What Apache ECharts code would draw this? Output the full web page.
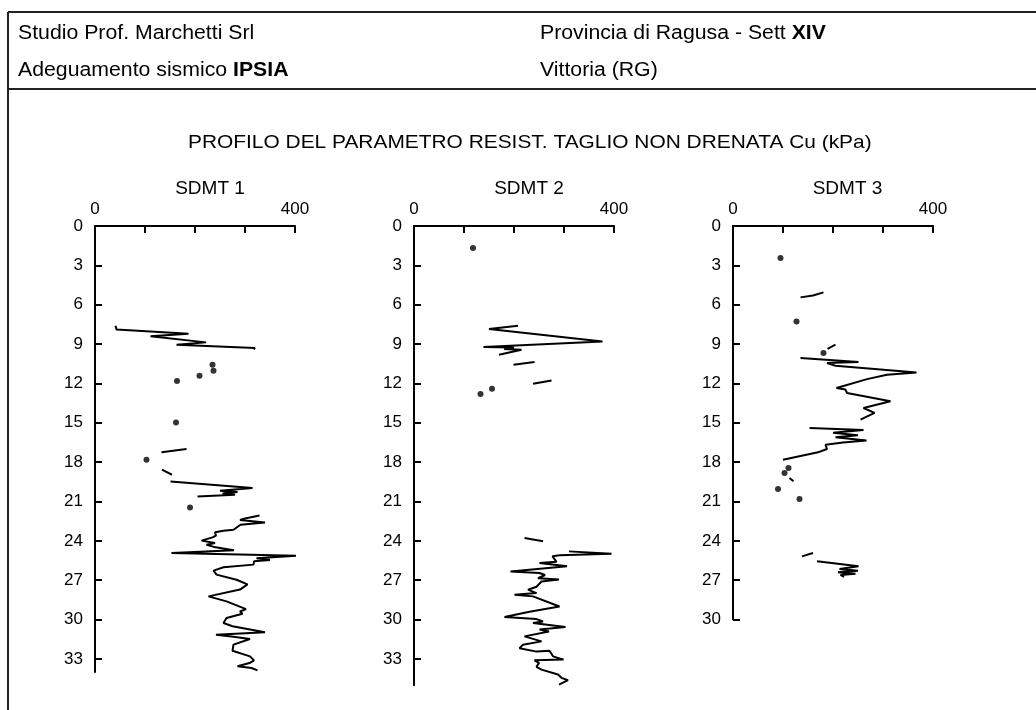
<!DOCTYPE html>
<html>
<head>
<meta charset="utf-8">
<script src="https://cdn.jsdelivr.net/npm/echarts@6/dist/echarts.min.js"></script>
<style>
html,body{margin:0;padding:0;background:#fff;}
#chart{width:1036px;height:710px;}
</style>
</head>
<body>
<div id="chart"></div>
<script>
// ---- Texts ----
const headerLeft1 = 'Studio Prof. Marchetti Srl';
const headerLeft2a = 'Adeguamento sismico ';
const headerLeft2b = 'IPSIA';
const headerRight1a = 'Provincia di Ragusa - Sett ';
const headerRight1b = 'XIV';
const headerRight2 = 'Vittoria (RG)';
const mainTitle = 'PROFILO DEL PARAMETRO RESIST. TAGLIO NON DRENATA Cu (kPa)';
const panelTitles = ['SDMT 1', 'SDMT 2', 'SDMT 3'];

// ---- Axes ----
const cuTickLabels = [0, 400];
const cuTicks = [100, 200, 300, 400];
const depthMax = [34, 35, 30];
const depthLabels1 = [0,3,6,9,12,15,18,21,24,27,30,33];
const depthLabels2 = [0,3,6,9,12,15,18,21,24,27,30,33];
const depthLabels3 = [0,3,6,9,12,15,18,21,24,27,30];

// ---- SDMT 1 : [Cu kPa, depth m] ----
const sdmt1SegA = [[41,7.6],[43,7.88],[187,8.22],[111,8.41],[222,8.87],[163,9.05],[320,9.3],[317,9.4]];
const sdmt1SegB = [[133,17.25],[183,17.0]];
const sdmt1SegC = [[134,18.57],[154,18.96]];
const sdmt1SegD = [[151,19.47],[153,19.6],[315,19.97],[250,20.17],[285,20.28],[255,20.38],[280,20.48],[205,20.61]];
const sdmt1SegE = [[329,22.06],[300,22.3],[290,22.4],[340,22.59],[291,22.77],[277,23.15],[257,23.22],[240,23.35],[242,23.6],[235,23.73],[213,23.98],[240,24.16],[223,24.29],[238,24.46],[278,24.72],[153,24.92],[405,25.13],[323,25.32],[350,25.45],[318,25.56],[317,25.81],[257,26.01],[237,26.27],[243,26.57],[283,26.96],[305,27.32],[290,27.71],[227,28.23],[263,28.61],[302,29.2],[290,29.38],[295,29.55],[263,29.88],[257,30.26],[275,30.51],[340,30.97],[242,31.15],[273,31.28],[310,31.48],[277,31.91],[275,32.37],[310,32.8],[318,33.11],[309,33.31],[285,33.56],[313,33.69],[325,33.87]];
const sdmt1Dots = [[235,10.57],[237,11.03],[209,11.41],[164,11.81],[162,14.97],[103,17.81],[190,21.45]];

// ---- SDMT 2 ----
const sdmt2SegA = [[208,7.6],[150,7.85],[377,8.8],[139,9.22],[200,9.27],[180,9.37],[215,9.43],[170,9.81]];
const sdmt2SegB = [[199,10.57],[241,10.37]];
const sdmt2SegC = [[238,12.02],[275,11.77]];
const sdmt2SegD = [[221,23.78],[258,24.03]];
const sdmt2SegE = [[310,24.8],[395,24.98],[291,25.1],[277,25.18],[285,25.6],[251,25.68],[306,25.94],[193,26.33],[251,26.45],[262,26.6],[248,26.85],[290,26.95],[255,27.1],[245,27.5],[228,27.72],[245,27.98],[201,28.1],[238,28.23],[291,29.0],[231,29.4],[181,29.8],[245,29.96],[258,30.14],[238,30.26],[303,30.56],[251,30.76],[270,30.9],[221,31.28],[255,31.66],[218,31.91],[211,32.18],[245,32.44],[271,32.37],[278,32.8],[299,33.05],[241,33.1],[250,33.3],[245,33.6],[255,33.81],[288,34.19],[295,34.44],[308,34.62],[290,34.95]];
const sdmt2Dots = [[118,1.68],[156,12.4],[133,12.8]];

// ---- SDMT 3 ----
const sdmt3SegA = [[135,5.44],[160,5.3],[181,5.06]];
const sdmt3SegB = [[189,9.37],[205,9.05]];
const sdmt3SegC = [[135,10.06],[251,10.37],[188,10.45],[205,10.65],[367,11.16],[308,11.34],[268,11.67],[207,12.35],[225,12.47],[228,12.73],[315,13.36],[261,13.87],[283,14.25],[255,14.76]];
const sdmt3SegD = [[153,15.4],[261,15.55],[200,15.75],[250,15.95],[205,16.1],[267,16.34],[220,16.5],[185,16.67],[188,17.0],[170,17.25],[100,17.81]];
const sdmt3SegE = [[113,19.2],[121,19.46]];
const sdmt3SegF = [[138,25.18],[160,24.93]];
const sdmt3SegG = [[168,25.56],[251,25.94],[213,26.15],[250,26.28],[210,26.4],[245,26.5],[215,26.6],[222,26.75]];
const sdmt3Dots = [[95,2.44],[127,7.27],[181,9.68],[111,18.45],[103,18.83],[90,20.05],[133,20.81]];

const panelLines = [
  [sdmt1SegA, sdmt1SegB, sdmt1SegC, sdmt1SegD, sdmt1SegE],
  [sdmt2SegA, sdmt2SegB, sdmt2SegC, sdmt2SegD, sdmt2SegE],
  [sdmt3SegA, sdmt3SegB, sdmt3SegC, sdmt3SegD, sdmt3SegE, sdmt3SegF, sdmt3SegG]
];
const panelDots = [sdmt1Dots, sdmt2Dots, sdmt3Dots];
const panelDepthLabels = [depthLabels1, depthLabels2, depthLabels3];

// ---- Layout ----
const FONT = '"Liberation Sans", Arial, Helvetica, sans-serif';
const PX_PER_M = 13.12;
const gridLeft = [95, 414, 733];
const gridTop = 226;
const gridWidth = 200;
const titleCenters = [210, 529, 847.5];

const grids = [], xAxes = [], yAxes = [], series = [];
for (let i = 0; i < 3; i++) {
  grids.push({left: gridLeft[i], top: gridTop, width: gridWidth, height: depthMax[i] * PX_PER_M, containLabel: false});
  xAxes.push({
    gridIndex: i, type: 'value', position: 'top', min: 0, max: 400, interval: 100,
    axisLine: {show: true, onZero: false, lineStyle: {color: '#000', width: 2}},
    axisTick: {show: true, inside: true, length: 7, customValues: cuTicks, lineStyle: {color: '#000', width: 2}},
    axisLabel: {show: true, customValues: cuTickLabels, margin: 8, fontSize: 17, color: '#000', fontFamily: FONT},
    splitLine: {show: false}
  });
  const lbl = panelDepthLabels[i];
  yAxes.push({
    gridIndex: i, type: 'value', inverse: true, min: 0, max: depthMax[i], interval: 3,
    axisLine: {show: true, onZero: false, lineStyle: {color: '#000', width: 2}},
    axisTick: {show: true, inside: true, length: 7, customValues: lbl.filter(v => v > 0), lineStyle: {color: '#000', width: 2}},
    axisLabel: {show: true, customValues: lbl, margin: 12, fontSize: 17, color: '#000', fontFamily: FONT},
    splitLine: {show: false}
  });
  panelLines[i].forEach(seg => {
    series.push({
      type: 'line', xAxisIndex: i, yAxisIndex: i, data: seg, showSymbol: false, symbol: 'none',
      clip: false, lineStyle: {color: '#000', width: 2}, animation: false, silent: true
    });
  });
  series.push({
    type: 'scatter', xAxisIndex: i, yAxisIndex: i, data: panelDots[i], symbol: 'circle', symbolSize: 6,
    clip: false, itemStyle: {color: '#000'}, animation: false, silent: true
  });
}

const HDR = 19.5, SX = 1.09;
const richHdr = {n: {fontSize: HDR, fontFamily: FONT, color: '#000'}, b: {fontSize: HDR, fontFamily: FONT, fontWeight: 'bold', color: '#000'}};
const graphics = [
  {type: 'line', shape: {x1: 8, y1: 12, x2: 1040, y2: 12}, style: {stroke: '#222', lineWidth: 2}},
  {type: 'line', shape: {x1: 8, y1: 12, x2: 8, y2: 715}, style: {stroke: '#222', lineWidth: 2}},
  {type: 'line', shape: {x1: 8, y1: 89, x2: 1040, y2: 89}, style: {stroke: '#222', lineWidth: 2}},
  {type: 'text', x: 18, y: 33.7, scaleX: SX, style: {text: headerLeft1, font: HDR + 'px ' + FONT, fill: '#000', verticalAlign: 'middle'}},
  {type: 'text', x: 18, y: 70.3, scaleX: SX, style: {text: '{n|' + headerLeft2a + '}{b|' + headerLeft2b + '}', verticalAlign: 'middle', rich: richHdr}},
  {type: 'text', x: 540, y: 33.7, scaleX: SX, style: {text: '{n|' + headerRight1a + '}{b|' + headerRight1b + '}', verticalAlign: 'middle', rich: richHdr}},
  {type: 'text', x: 540, y: 70.3, scaleX: SX, style: {text: headerRight2, font: HDR + 'px ' + FONT, fill: '#000', verticalAlign: 'middle'}},
  {type: 'text', x: 188, y: 142.7, scaleX: 1.1, style: {text: mainTitle, font: '19px ' + FONT, fill: '#000', verticalAlign: 'middle'}}
];
for (let i = 0; i < 3; i++) {
  graphics.push({type: 'text', x: titleCenters[i], y: 188.3, style: {text: panelTitles[i], font: '19px ' + FONT, fill: '#000', align: 'center', verticalAlign: 'middle'}});
}

const chart = echarts.init(document.getElementById('chart'), null, {renderer: 'canvas'});
chart.setOption({
  backgroundColor: '#fff',
  animation: false,
  grid: grids,
  xAxis: xAxes,
  yAxis: yAxes,
  series: series,
  graphic: graphics
});
</script>
</body>
</html>
